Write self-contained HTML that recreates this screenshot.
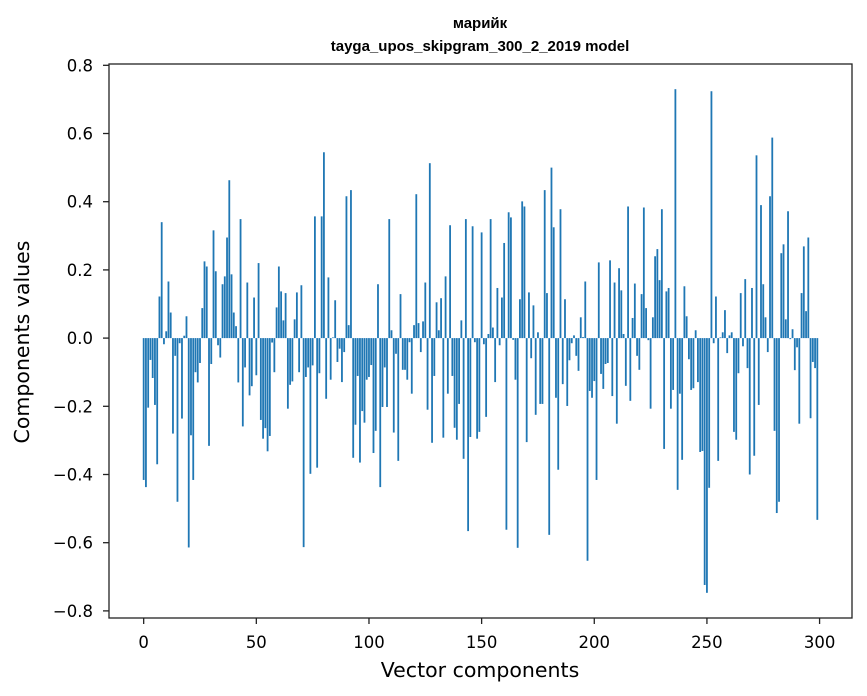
<!DOCTYPE html>
<html><head><meta charset="utf-8"><style>
html,body{margin:0;padding:0;background:#fff;}
svg{display:block;font-family:"DejaVu Sans","Liberation Sans",sans-serif;}
</style></head><body>
<svg id="chart" width="867" height="696" viewBox="0 0 867 696" xmlns="http://www.w3.org/2000/svg">
<rect x="0" y="0" width="867" height="696" fill="#fff"/>
<text x="480" y="28" text-anchor="middle" font-size="15" font-weight="bold" font-family="Liberation Sans, sans-serif">марийк</text>
<text x="480" y="51" text-anchor="middle" font-size="15" font-weight="bold" font-family="Liberation Sans, sans-serif">tayga_upos_skipgram_300_2_2019 model</text>
<g id="bars"></g>
<g id="xticks"></g>
<g id="yticks"></g>
<rect x="109" y="64" width="743" height="554" fill="none" stroke="#222" stroke-width="1.3"/>
<text x="480" y="677" text-anchor="middle" font-size="20.5">Vector components</text>
<text transform="translate(29,342) rotate(-90)" text-anchor="middle" font-size="20.5">Components values</text>
</svg>
<script>
const values = [
-0.416,-0.437,-0.204,-0.064,-0.117,-0.196,-0.37,0.122,0.34,-0.018,
0.02,0.166,0.075,-0.28,-0.052,-0.48,-0.015,-0.236,0.007,0.064,
-0.614,-0.285,-0.416,-0.10,-0.13,-0.073,0.088,0.225,0.21,-0.316,
-0.076,0.316,0.196,-0.021,-0.057,0.158,0.181,0.295,0.463,0.187,
0.075,0.035,-0.13,0.349,-0.259,-0.086,0.163,-0.168,-0.141,0.119,
-0.109,0.22,-0.24,-0.295,-0.264,-0.332,-0.287,-0.013,-0.10,0.09,
0.21,0.137,0.052,0.132,-0.207,-0.137,-0.127,0.055,0.134,-0.10,
0.155,-0.613,-0.114,-0.086,-0.398,-0.08,0.357,-0.38,-0.103,0.357,
0.545,-0.178,0.178,-0.122,0.002,0.111,-0.07,-0.031,-0.129,-0.041,
0.416,0.038,0.434,-0.351,-0.254,-0.111,-0.365,-0.214,-0.248,-0.122,
-0.114,-0.079,-0.337,-0.272,0.158,-0.437,-0.202,-0.086,-0.202,0.349,
0.023,-0.277,-0.046,-0.36,0.129,-0.093,-0.093,-0.122,-0.012,-0.163,
0.038,0.422,0.044,-0.041,0.049,0.163,-0.21,0.513,-0.307,-0.111,
0.105,0.023,0.117,-0.292,0.181,-0.163,0.331,-0.111,-0.263,-0.298,
-0.193,0.052,-0.354,0.349,-0.566,-0.29,0.328,-0.012,-0.295,-0.275,
0.31,-0.018,-0.231,0.012,0.349,0.031,-0.129,0.147,-0.021,0.119,
0.279,-0.562,0.369,0.354,-0.005,-0.122,-0.615,0.114,0.401,0.386,
-0.305,0.134,-0.059,0.096,-0.225,0.017,-0.193,-0.193,0.434,0.132,
-0.577,0.50,0.325,-0.175,-0.386,0.378,-0.135,0.114,-0.199,-0.065,
-0.015,0.008,-0.052,-0.096,0.061,0.003,0.166,-0.653,-0.155,-0.175,
-0.126,-0.416,0.222,-0.105,-0.149,-0.076,-0.073,0.228,-0.17,0.163,
-0.251,0.205,0.14,0.012,-0.14,0.386,-0.184,0.059,0.16,-0.052,
-0.093,0.129,0.383,0.088,-0.006,-0.207,0.061,0.24,0.261,0.17,
0.378,-0.325,0.137,0.147,-0.207,-0.152,0.73,-0.445,-0.163,-0.357,
0.152,0.064,-0.062,-0.152,-0.147,0.023,-0.129,-0.334,-0.331,-0.724,
-0.747,-0.439,0.724,-0.015,0.122,-0.36,0.002,0.017,0.082,-0.044,
0.008,0.017,-0.275,-0.298,-0.103,0.132,-0.024,0.173,-0.088,-0.40,
0.147,-0.345,0.536,-0.196,0.39,0.158,0.061,-0.041,0.416,0.588,
-0.272,-0.513,-0.48,0.249,0.275,0.055,0.372,-0.003,0.026,-0.094,
-0.027,-0.251,0.132,0.269,0.079,0.295,-0.235,-0.07,-0.088,-0.533
];
const xTickValues = [0,50,100,150,200,250,300];
const yTickValues = [-0.8,-0.6,-0.4,-0.2,0.0,0.2,0.4,0.6,0.8];
const yTickLabels = ["\u22120.8","\u22120.6","\u22120.4","\u22120.2","0.0","0.2","0.4","0.6","0.8"];

const NS = "http://www.w3.org/2000/svg";
const L=109,R=852,T=64,B=618;
const n = values.length;
const xMin=-0.4-0.05*(n-0.2), xMax=(n-1)+0.4+0.05*(n-0.2);
const vmin=Math.min(0,...values), vmax=Math.max(0,...values);
const yMin=vmin-0.05*(vmax-vmin), yMax=vmax+0.05*(vmax-vmin);
const xs = v => L+(v-xMin)/(xMax-xMin)*(R-L);
const ys = v => B-(v-yMin)/(yMax-yMin)*(B-T);

const gb=document.getElementById('bars');
values.forEach((v,i)=>{
  const r=document.createElementNS(NS,'rect');
  const x0=xs(i-0.4), x1=xs(i+0.4);
  const y0=ys(Math.max(v,0)), y1=ys(Math.min(v,0));
  r.setAttribute('x',x0);r.setAttribute('width',x1-x0);
  r.setAttribute('y',y0);r.setAttribute('height',Math.max(y1-y0,0.01));
  r.setAttribute('fill','#1f77b4');
  
  
  gb.appendChild(r);
});
const gx=document.getElementById('xticks');
xTickValues.forEach(t=>{
  const x=xs(t);
  const l=document.createElementNS(NS,'line');
  l.setAttribute('x1',x);l.setAttribute('x2',x);l.setAttribute('y1',B);l.setAttribute('y2',B+6);
  l.setAttribute('stroke','#222');l.setAttribute('stroke-width','1.3');
  
  
  gx.appendChild(l);
  const tx=document.createElementNS(NS,'text');
  tx.setAttribute('x',x);tx.setAttribute('y',B+30);tx.setAttribute('text-anchor','middle');tx.setAttribute('font-size','16.5');
  tx.textContent=String(t);
  
  
  gx.appendChild(tx);
});
const gy=document.getElementById('yticks');
yTickValues.forEach((t,i)=>{
  const y=ys(t);
  const l=document.createElementNS(NS,'line');
  l.setAttribute('x1',L-6);l.setAttribute('x2',L);l.setAttribute('y1',y);l.setAttribute('y2',y);
  l.setAttribute('stroke','#222');l.setAttribute('stroke-width','1.3');
  
  
  gy.appendChild(l);
  const tx=document.createElementNS(NS,'text');
  tx.setAttribute('x',L-16);tx.setAttribute('y',y+6);tx.setAttribute('text-anchor','end');tx.setAttribute('font-size','16.5');
  tx.textContent=yTickLabels[i];
  
  
  gy.appendChild(tx);
});
</script>
</body></html>
